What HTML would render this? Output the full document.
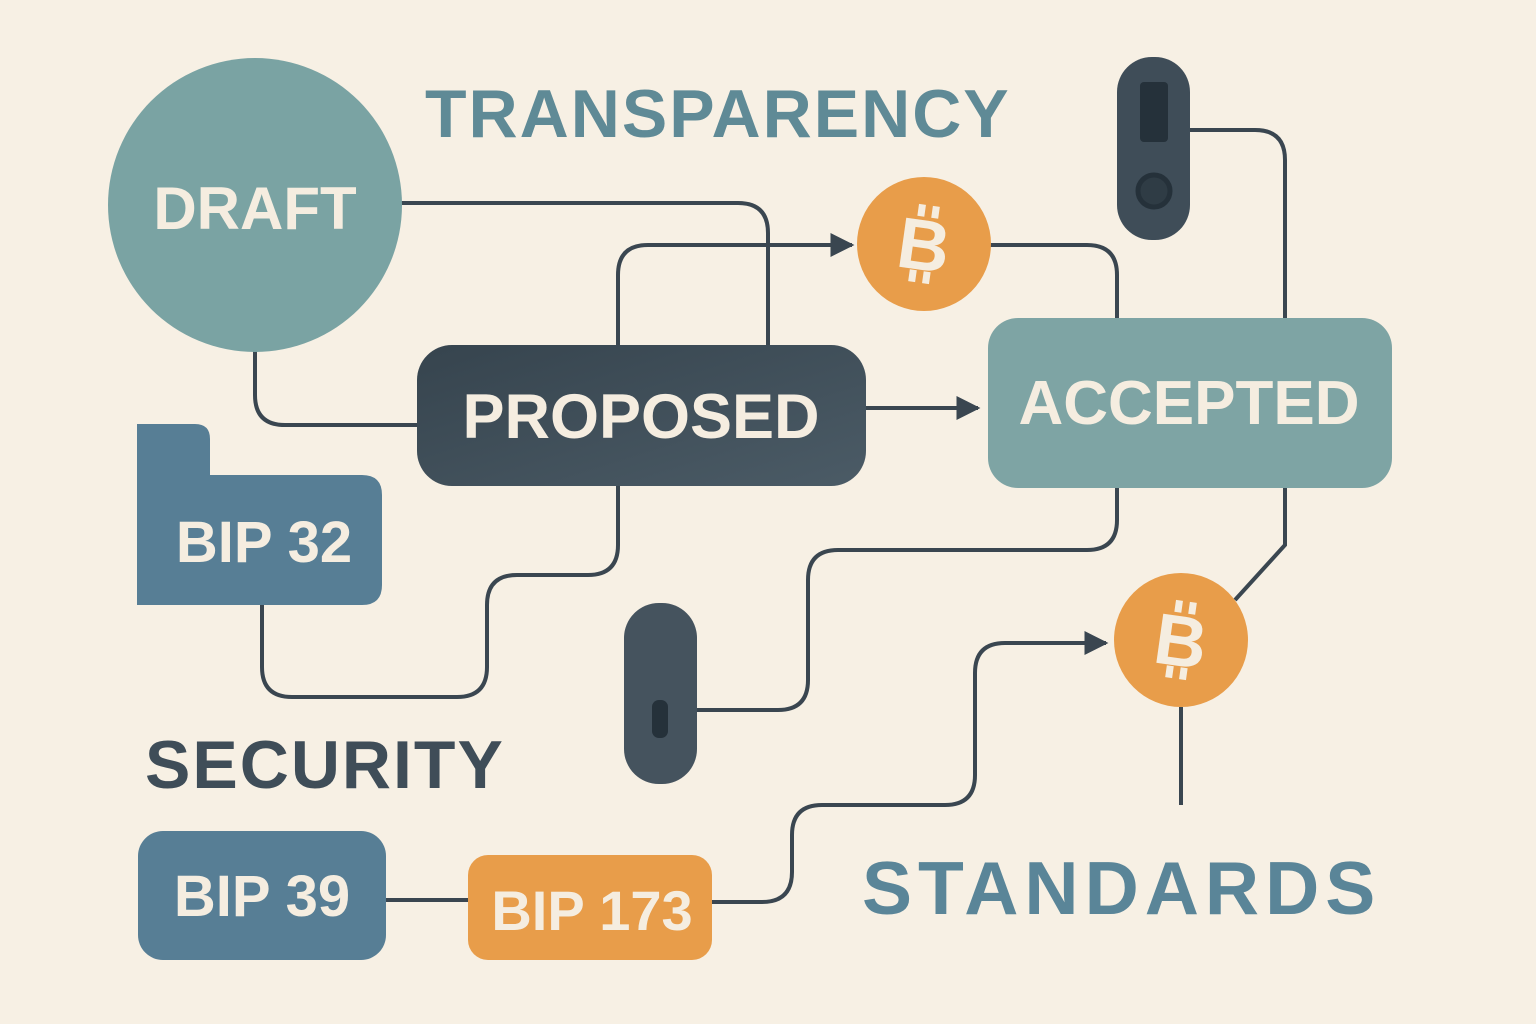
<!DOCTYPE html>
<html><head><meta charset="utf-8"><style>
html,body{margin:0;padding:0;background:#f7f0e4;}
svg{display:block}
text{font-family:"Liberation Sans",sans-serif;font-weight:bold}
</style></head><body>
<svg width="1536" height="1024" viewBox="0 0 1536 1024" xmlns="http://www.w3.org/2000/svg">
<defs>
<linearGradient id="pg" x1="0" y1="0" x2="1" y2="1"><stop offset="0" stop-color="#36444e"/><stop offset="1" stop-color="#4b5b66"/></linearGradient>
<marker id="ar" viewBox="0 0 10 10" refX="9" refY="5" markerWidth="6" markerHeight="6" orient="auto"><path d="M0,0 L10,5 L0,10 z" fill="#3a4650"/></marker>
</defs>
<rect width="1536" height="1024" fill="#f7f0e4"/>
<g fill="none" stroke="#3a4650" stroke-width="4">
<path d="M400,203 H738 Q768,203 768,233 V345"/>
<path d="M255,350 V395 Q255,425 285,425 H417"/>
<path d="M618,345 V275 Q618,245 648,245 H852" marker-end="url(#ar)"/>
<path d="M990,245 H1087 Q1117,245 1117,275 V318"/>
<path d="M1190,130 H1255 Q1285,130 1285,160 V318"/>
<path d="M1285,488 V545 L1235,600"/>
<path d="M866,408 H978" marker-end="url(#ar)"/>
<path d="M618,486 V545 Q618,575 588,575 H517 Q487,575 487,605 V667 Q487,697 457,697 H292 Q262,697 262,667 V605"/>
<path d="M1117,488 V520 Q1117,550 1087,550 H838 Q808,550 808,580 V680 Q808,710 778,710 H697"/>
<path d="M1181,707 V805"/>
<path d="M386,900 H468"/>
<path d="M712,902 H762 Q792,902 792,872 V835 Q792,805 822,805 H945 Q975,805 975,775 V673 Q975,643 1005,643 H1106" marker-end="url(#ar)"/>
</g>
<circle cx="255" cy="205" r="147" fill="#7aa3a3"/>
<text x="255" y="229" font-size="60" fill="#f5ede0" text-anchor="middle">DRAFT</text>
<text x="425" y="137" font-size="68" fill="#5f8a96" letter-spacing="2">TRANSPARENCY</text>
<g><circle cx="924" cy="244" r="67" fill="#e89d4a"/>
<text x="924" y="270" font-size="72" fill="#f5ede0" text-anchor="middle" transform="rotate(8 924 244)">B</text>
<path d="M917,205 v12 M931,205 v12 M917,271 v12 M931,271 v12" stroke="#f5ede0" stroke-width="7" transform="rotate(8 924 244)"/></g>
<g><circle cx="1181" cy="640" r="67" fill="#e89d4a"/>
<text x="1181" y="666" font-size="72" fill="#f5ede0" text-anchor="middle" transform="rotate(8 1181 640)">B</text>
<path d="M1174,601 v12 M1188,601 v12 M1174,667 v12 M1188,667 v12" stroke="#f5ede0" stroke-width="7" transform="rotate(8 1181 640)"/></g>
<rect x="1117" y="57" width="73" height="183" rx="35" fill="#3f4d58"/>
<rect x="1140" y="82" width="28" height="60" rx="4" fill="#25313a"/>
<circle cx="1154" cy="191" r="16" fill="#2f3c45" stroke="#25313a" stroke-width="5"/>
<rect x="624" y="603" width="73" height="181" rx="35" fill="#45535e"/>
<rect x="652" y="700" width="16" height="38" rx="7" fill="#25313a"/>
<rect x="417" y="345" width="449" height="141" rx="35" fill="url(#pg)"/>
<text x="641" y="438" font-size="63" fill="#f5ede0" text-anchor="middle">PROPOSED</text>
<rect x="988" y="318" width="404" height="170" rx="30" fill="#7ea4a4"/>
<text x="1189" y="424" font-size="62" fill="#f5ede0" text-anchor="middle">ACCEPTED</text>
<path d="M137,424 H195 Q210,424 210,439 V475 H362 Q382,475 382,495 V585 Q382,605 362,605 H137 Z" fill="#577e95"/>
<text x="264" y="562" font-size="58" fill="#f5ede0" text-anchor="middle">BIP 32</text>
<text x="145" y="788" font-size="68" fill="#3f4d58" letter-spacing="2">SECURITY</text>
<rect x="138" y="831" width="248" height="129" rx="25" fill="#577e95"/>
<text x="262" y="916" font-size="58" fill="#f5ede0" text-anchor="middle">BIP 39</text>
<rect x="468" y="855" width="244" height="105" rx="20" fill="#e89d4a"/>
<text x="592" y="930" font-size="56" fill="#f5ede0" text-anchor="middle">BIP 173</text>
<text x="862" y="914" font-size="75" fill="#5a8598" letter-spacing="6">STANDARDS</text>
</svg>
</body></html>
